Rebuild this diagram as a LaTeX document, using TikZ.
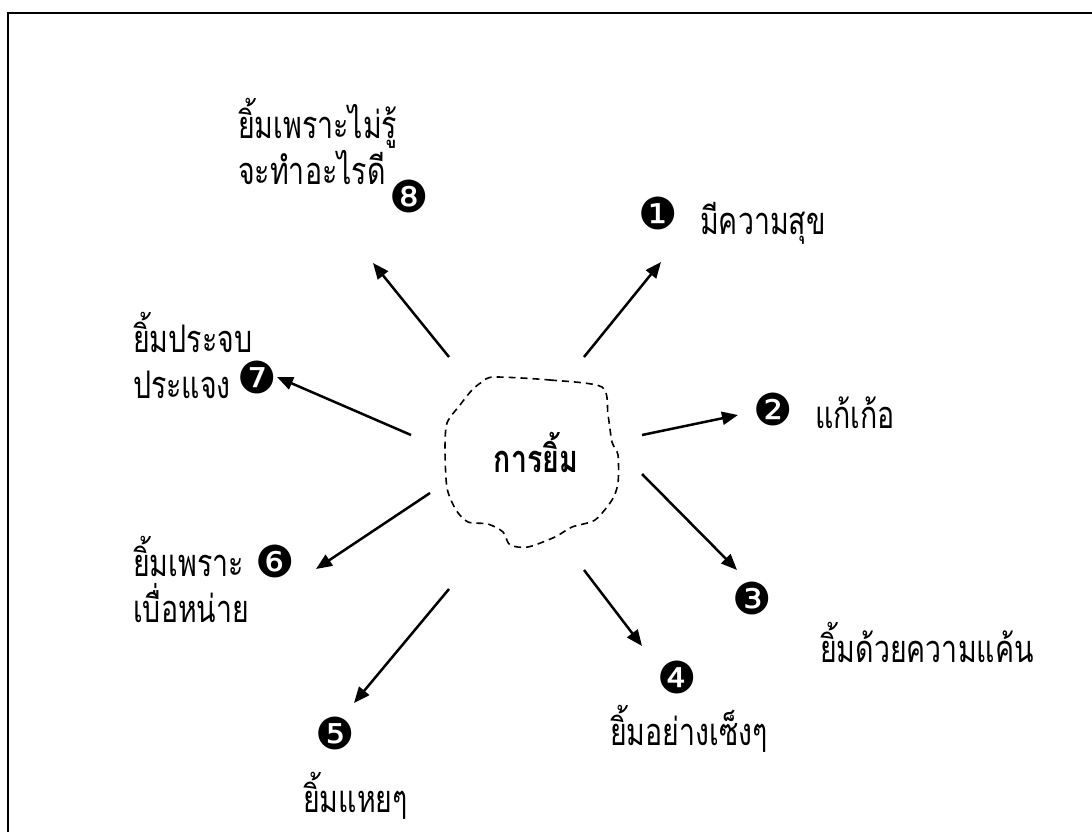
\documentclass[tikz,border=0pt]{standalone}
\usepackage{fontspec}
\usetikzlibrary{arrows.meta}
\newfontfamily\thaifont[Script=Thai,FakeStretch=0.75]{Loma}
\newfontfamily\dingfont{DejaVu Sans}
\begin{document}
\begin{tikzpicture}[x=1pt,y=-1pt,
  lbl/.style={font=\thaifont\fontsize{38}{46}\selectfont, inner sep=0pt, anchor=base west, align=left},
  num/.style={font=\dingfont\fontsize{44}{44}\selectfont, inner sep=0pt},
  arr/.style={line width=2.5pt, -{Triangle[length=16pt,width=13pt]}},
  blob/.style={line width=1.6pt, dash pattern=on 7pt off 5pt}]
\useasboundingbox (0,0) rectangle (1092,832);
% frame
\draw[line width=2pt] (8,840) -- (8,13) -- (1100,13);
% central blob
\draw[blob] plot[smooth cycle, tension=0.45] coordinates {
 (494,377) (550,380) (602,387) (608,415) (612,442) (618,455) (618,483)
 (612,500) (595,520) (572,527) (555,537) (528,547) (510,545) (503,532)
 (488,524) (468,522) (456,510) (447,488) (445,450) (447,423) (460,405)
 (472,390) (482,382)};
\node[font=\thaifont\bfseries\fontsize{38}{46}\selectfont, inner sep=0pt, anchor=base] (c) at (536,472) {การยิ้ม};
% arrow endpoints
\coordinate (s1) at (584,357); \coordinate (e1) at (661,262);
\coordinate (s2) at (642,435); \coordinate (e2) at (738,415);
\coordinate (s3) at (642,474); \coordinate (e3) at (737,570);
\coordinate (s4) at (584,570); \coordinate (e4) at (642,646);
\coordinate (s5) at (449,589); \coordinate (e5) at (354,703);
\coordinate (s6) at (430,493); \coordinate (e6) at (316,569);
\coordinate (s7) at (411,435); \coordinate (e7) at (277,377);
\coordinate (s8) at (449,357); \coordinate (e8) at (373,263);
\foreach \i in {1,...,8} {\draw[arr] (s\i) -- (e\i);}
% numbers
\node[num] (n1) at (658,213) {❶};
\node[num] (n2) at (773,409) {❷};
\node[num] (n3) at (752,598) {❸};
\node[num] (n4) at (677,677) {❹};
\node[num] (n5) at (335,733) {❺};
\node[num] (n6) at (275,561) {❻};
\node[num] (n7) at (257,377) {❼};
\node[num] (n8) at (409,196) {❽};
% labels
\node[lbl] (t1) at (700,234) {มีความสุข};
\node[lbl] (t2) at (815,428) {แก้เก้อ};
\node[lbl] (t3) at (820,662) {ยิ้มด้วยความแค้น};
\node[lbl] (t4) at (610,745) {ยิ้มอย่างเซ็งๆ};
\node[lbl] (t5) at (303,812) {ยิ้มแหยๆ};
\node[lbl] (t6) at (133,622) {ยิ้มเพราะ\\เบื่อหน่าย};
\node[lbl] (t7) at (133,398) {ยิ้มประจบ\\ประแจง};
\node[lbl] (t8) at (238,184) {ยิ้มเพราะไม่รู้\\จะทำอะไรดี};
\end{tikzpicture}
\end{document}
